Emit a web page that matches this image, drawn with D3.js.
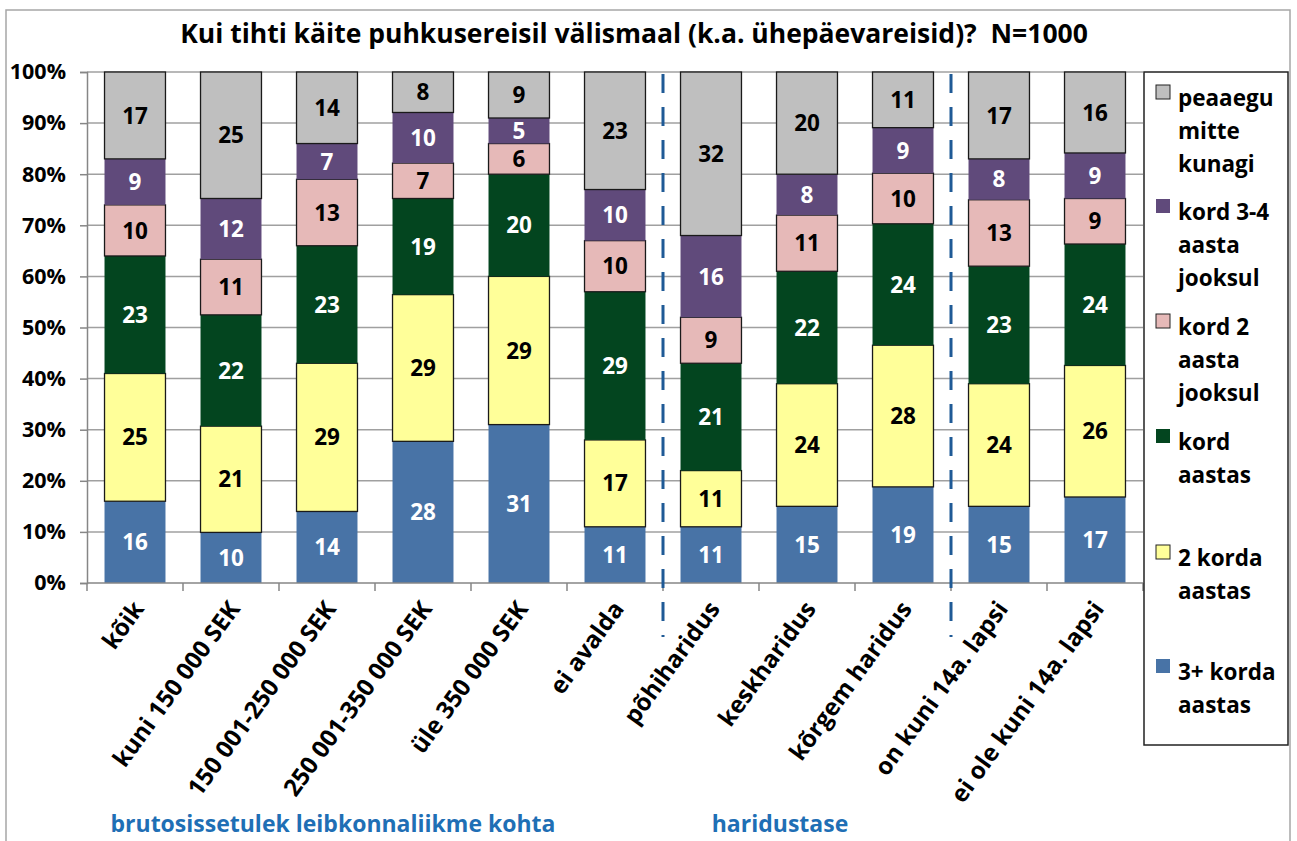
<!DOCTYPE html>
<html>
<head>
<meta charset="utf-8">
<script src="https://cdn.jsdelivr.net/npm/d3@7"></script>
<style>
  body { margin: 0; background: #fff; }
  text { font-family: "Open Sans", Lato, sans-serif; font-weight: bold; }
</style>
</head>
<body>
<div id="chartArea"></div>
<script>
// categories (x axis)
const categories = ["kõik", "kuni 150 000 SEK", "150 001-250 000 SEK", "250 001-350 000 SEK",
  "üle 350 000 SEK", "ei avalda", "põhiharidus", "keskharidus", "kõrgem haridus",
  "on kuni 14a. lapsi", "ei ole kuni 14a. lapsi"];

// series, bottom to top
const seriesNames = ["3+ korda aastas", "2 korda aastas", "kord aastas",
  "kord 2 aasta jooksul", "kord 3-4 aasta jooksul", "peaaegu mitte kunagi"];
const plus3 =   [16, 10, 14, 28, 31, 11, 11, 15, 19, 15, 17];
const twice =   [25, 21, 29, 29, 29, 17, 11, 24, 28, 24, 26];
const once =    [23, 22, 23, 19, 20, 29, 21, 22, 24, 23, 24];
const per2y =   [10, 11, 13, 7, 6, 10, 9, 11, 10, 13, 9];
const per34y =  [9, 12, 7, 10, 5, 10, 16, 8, 9, 8, 9];
const never =   [17, 25, 14, 8, 9, 23, 32, 20, 11, 17, 16];
const seriesValues = [plus3, twice, once, per2y, per34y, never];

const legendLines = [["peaaegu", "mitte", "kunagi"], ["kord 3-4", "aasta", "jooksul"],
  ["kord 2", "aasta", "jooksul"], ["kord", "aastas"], ["2 korda", "aastas"], ["3+ korda", "aastas"]];

const yTicks = d3.range(0, 1.01, 0.1);
const separators = [6, 9]; // dashed line before these category indexes
const groupLabels = [{text: "brutosissetulek leibkonnaliikme kohta", x: 333}, {text: "haridustase", x: 780}];

const colors = ["#4873a6", "#ffff99", "#03451f", "#e6b9b8", "#604a7b", "#bfbfbf"];
const labelColors = ["#fff", "#000", "#fff", "#000", "#fff", "#000"];
const outlined = [false, true, false, true, false, true];

const W = 1297, H = 841;
const svg = d3.select("#chartArea").append("svg")
  .attr("width", W)
  .attr("height", H);

// outer frame
svg.append("rect")
  .attr("x", 6).attr("y", 10)
  .attr("width", 1284).attr("height", 840)
  .attr("fill", "none").attr("stroke", "#a6a6a6").attr("stroke-width", 1.5);

svg.append("text")
  .attr("x", 634).attr("y", 43)
  .attr("text-anchor", "middle")
  .attr("font-size", "26.5px")
  .style("white-space", "pre")
  .text("Kui tihti käite puhkusereisil välismaal (k.a. ühepäevareisid)?  N=1000");

const x = d3.scaleBand().domain(categories).range([87, 1143]).paddingInner(0.365).paddingOuter(0.1825);
const y = d3.scaleLinear().domain([0, 1]).range([583, 72]);

// gridlines
svg.append("g").selectAll("line")
  .data(yTicks.slice(1))
  .enter().append("line")
    .attr("x1", 87).attr("x2", 1143)
    .attr("y1", d => y(d)).attr("y2", d => y(d))
    .attr("stroke", "#a0a0a0").attr("stroke-width", 1.5);

// y axis
const yAxis = svg.append("g")
  .attr("transform", "translate(87,0)")
  .call(d3.axisLeft(y).tickValues(yTicks).tickFormat(d3.format(".0%")).tickSize(7).tickPadding(14));
yAxis.selectAll("text").attr("font-size", "21.5px").attr("fill", "#000")
  .style("font-family", "'Open Sans', sans-serif").style("font-weight", "bold");
yAxis.selectAll("line, path").attr("stroke", "#868686").attr("stroke-width", 1.5);

// stacked data
const table = categories.map((c, i) => {
  const row = {cat: c};
  seriesNames.forEach((s, k) => row[s] = seriesValues[k][i]);
  return row;
});
const stacked = d3.stack().keys(seriesNames).offset(d3.stackOffsetExpand)(table);

const layers = svg.append("g").selectAll("g")
  .data(stacked)
  .enter().append("g");

layers.selectAll("rect")
  .data((d, k) => d.map(p => ({p, k})))
  .enter().append("rect")
    .attr("x", d => x(d.p.data.cat))
    .attr("width", x.bandwidth())
    .attr("y", d => y(d.p[1]))
    .attr("height", d => y(d.p[0]) - y(d.p[1]))
    .attr("fill", d => colors[d.k])
    .attr("stroke", d => outlined[d.k] ? "#1a1a1a" : "none")
    .attr("stroke-width", 1.3);

layers.selectAll("text")
  .data((d, k) => d.map(p => ({p, k, v: p.data[seriesNames[k]]})))
  .enter().append("text")
    .attr("x", d => x(d.p.data.cat) + x.bandwidth() / 2)
    .attr("y", d => (y(d.p[0]) + y(d.p[1])) / 2)
    .attr("dy", "0.36em")
    .attr("text-anchor", "middle")
    .attr("font-size", "22.5px")
    .attr("fill", d => labelColors[d.k])
    .text(d => d.v);

// x axis
const xAxis = svg.append("g")
  .attr("transform", "translate(0,583)");
xAxis.append("line").attr("x1", 87).attr("x2", 1143).attr("stroke", "#868686").attr("stroke-width", 1.5);
xAxis.selectAll(".tk")
  .data(d3.range(categories.length + 1))
  .enter().append("line")
    .attr("x1", i => 87 + i * x.step()).attr("x2", i => 87 + i * x.step())
    .attr("y1", 0).attr("y2", 8)
    .attr("stroke", "#868686").attr("stroke-width", 1.5);
xAxis.selectAll("text")
  .data(categories)
  .enter().append("text")
    .attr("transform", d => `translate(${x(d) + x.bandwidth() / 2 + 10},${26}) rotate(-54)`)
    .attr("text-anchor", "end")
    .attr("font-size", "24px")
    .attr("fill", "#000")
    .text(d => d);

// dashed separators
svg.append("g").selectAll("line")
  .data(separators)
  .enter().append("line")
    .attr("x1", i => 87 + i * x.step()).attr("x2", i => 87 + i * x.step())
    .attr("y1", 74).attr("y2", 637)
    .attr("stroke", "#1f5a96").attr("stroke-width", 3)
    .attr("stroke-dasharray", "19,14");

// group labels
svg.append("g").selectAll("text")
  .data(groupLabels)
  .enter().append("text")
    .attr("x", d => d.x).attr("y", 832)
    .attr("text-anchor", "middle")
    .attr("font-size", "23px")
    .attr("fill", "#1f6fb5")
    .text(d => d.text);

// legend
const legend = svg.append("g");
legend.append("rect")
  .attr("x", 1144).attr("y", 72).attr("width", 144).attr("height", 673)
  .attr("fill", "#fff").attr("stroke", "#222").attr("stroke-width", 1.5);
const legendTop = [98, 212, 327, 442, 558, 672];
const legendOrder = [5, 4, 3, 2, 1, 0];
legendOrder.forEach((k, j) => {
  const g = legend.append("g").attr("transform", `translate(1156,${legendTop[j]})`);
  g.append("rect").attr("x", 0).attr("y", -13).attr("width", 14).attr("height", 14)
    .attr("fill", colors[k]).attr("stroke", outlined[k] ? "#222" : "none").attr("stroke-width", 1);
  g.selectAll("text").data(legendLines[j]).enter().append("text")
    .attr("x", 22).attr("y", (d, i) => i * 33 + 8)
    .attr("font-size", "22.5px").attr("fill", "#000")
    .text(d => d);
});
</script>
</body>
</html>
